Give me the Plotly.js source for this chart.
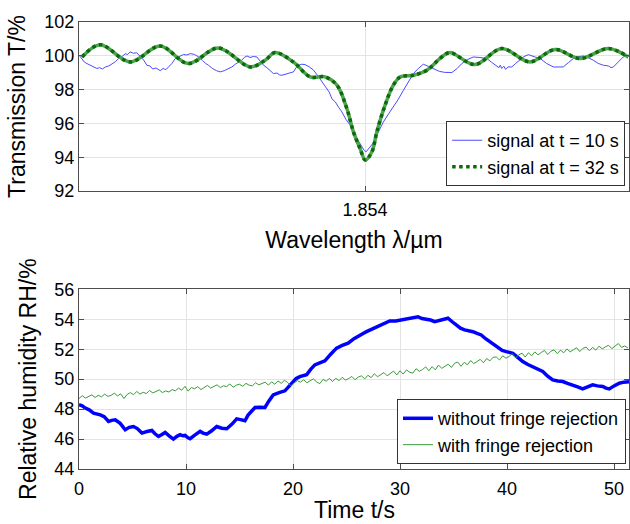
<!DOCTYPE html>
<html>
<head>
<meta charset="utf-8">
<script src="https://cdn.plot.ly/plotly-3.0.1.min.js"></script>
<style>html,body{margin:0;padding:0;background:#fff;}#chart{width:630px;height:524px;}</style>
</head>
<body>
<div id="chart"></div>
<script>
// ---------- Top panel: transmission spectra ----------
const wlTick = [1.854];
const wlTickText = ['1.854'];

const wl10 = [1.852962,1.852971,1.852980,1.852989,1.853000,1.853012,1.853025,1.853035,1.853045,1.853056,
  1.853068,1.853080,1.853092,1.853104,1.853116,1.853128,1.853137,1.853146,1.853158,1.853170,
  1.853183,1.853195,1.853207,1.853218,1.853228,1.853240,1.853255,1.853266,1.853276,1.853286,
  1.853298,1.853310,1.853325,1.853340,1.853352,1.853365,1.853380,1.853395,1.853410,1.853420,
  1.853431,1.853445,1.853460,1.853474,1.853488,1.853502,1.853516,1.853530,1.853543,1.853552,
  1.853562,1.853571,1.853582,1.853594,1.853607,1.853619,1.853631,1.853643,1.853655,1.853667,
  1.853680,1.853690,1.853698,1.853710,1.853725,1.853740,1.853749,1.853758,1.853770,1.853782,
  1.853797,1.853813,1.853830,1.853849,1.853870,1.853880,1.853892,1.853904,1.853916,1.853930,
  1.853946,1.853958,1.853970,1.853980,1.853989,1.853997,1.854004,1.854012,1.854019,1.854028,
  1.854037,1.854052,1.854067,1.854085,1.854103,1.854120,1.854140,1.854158,1.854176,1.854194,
  1.854212,1.854230,1.854249,1.854270,1.854290,1.854316,1.854335,1.854352,1.854372,1.854394,
  1.854418,1.854443,1.854460,1.854478,1.854487,1.854492,1.854497,1.854505,1.854511,1.854520,
  1.854534,1.854548,1.854564,1.854578,1.854594,1.854606,1.854620,1.854637,1.854660,1.854685,
  1.854703,1.854721,1.854740,1.854758,1.854776,1.854794,1.854812,1.854830,1.854848,1.854867,
  1.854885,1.854895,1.854903,1.854920,1.854939,1.854957,1.854962];
const T10 = [100.00,99.84,99.62,99.54,99.45,99.33,99.25,99.30,99.22,99.34,
  99.40,99.52,99.65,99.84,99.95,100.12,100.08,100.23,100.15,100.18,
  99.93,99.75,99.44,99.40,99.22,99.28,99.12,99.25,99.18,99.34,
  99.55,99.84,99.95,100.08,100.05,100.13,100.08,99.93,99.72,99.55,
  99.44,99.25,99.12,99.05,99.12,99.22,99.34,99.52,99.68,99.74,
  99.92,99.99,99.90,99.96,99.93,99.70,99.44,99.30,99.10,98.95,
  98.98,98.86,98.85,98.90,98.98,99.05,99.30,99.44,99.50,99.48,
  99.35,99.15,98.78,98.36,97.85,97.45,97.27,96.95,96.68,96.25,
  95.90,95.45,95.11,94.82,94.62,94.40,94.32,94.48,94.56,94.80,
  95.11,95.62,96.09,96.55,96.98,97.40,97.97,98.45,98.95,99.25,
  99.50,99.38,99.25,99.08,99.02,99.01,99.25,99.54,99.78,99.93,
  99.90,99.84,99.62,99.40,99.30,99.45,99.25,99.38,99.20,99.34,
  99.34,99.55,99.74,99.95,100.07,99.98,99.92,99.84,99.55,99.34,
  99.36,99.34,99.60,99.84,99.95,99.99,99.88,99.74,99.55,99.44,
  99.40,99.30,99.34,99.65,99.93,100.03,100.05];

const wl32 = [1.852971,1.853037,1.853146,1.853255,1.853357,1.853466,1.853583,1.853637,1.853673,1.853739,
  1.853801,1.853855,1.853898,1.853934,1.853958,1.853982,1.854001,1.854025,1.854043,1.854073,
  1.854103,1.854128,1.854176,1.854225,1.854279,1.854309,1.854400,1.854497,1.854600,1.854691,
  1.854782,1.854885,1.854957];
const T32 = [99.93,100.66,99.64,100.58,99.54,100.46,99.34,99.74,100.19,99.64,
  98.75,98.75,98.26,96.88,95.50,94.52,93.83,94.32,95.50,97.08,
  98.26,98.75,98.85,99.15,99.93,100.19,99.48,100.43,99.64,100.37,
  99.84,100.43,99.93];

// ---------- Bottom panel: relative humidity vs time ----------
const tWithout = [0,0.3,0.59,0.95,1.36,1.65,1.99,2.35,2.76,3.05,3.39,3.85,4.32,4.7,5.09,5.45,5.88,6.35,6.81,7.1,
  7.43,7.75,8.05,8.45,8.82,9.15,9.45,9.7,9.92,10.15,10.38,10.85,11.32,11.6,11.94,12.4,12.87,13.35,13.81,14.3,
  14.74,15.1,15.51,15.8,16.45,16.9,17.38,17.75,18.15,18.7,19.24,19.6,20.02,20.3,20.64,20.95,21.27,21.65,22.04,22.5,
  22.98,23.5,24.07,24.6,25.15,25.7,26.24,26.55,26.87,27.4,27.95,28.5,29.04,29.6,30.13,30.9,31.68,32.05,32.46,32.85,
  33.24,33.85,34.48,34.85,35.26,35.65,36.04,36.4,36.81,37.2,37.59,38.0,38.37,38.75,39.14,39.55,39.93,40.25,40.54,41.0,
  41.47,41.95,42.41,42.9,43.34,43.8,44.27,44.75,45.21,45.65,46.14,46.6,47.07,47.5,48.0,48.45,48.94,49.25,49.56,50.0,
  50.49,50.9,51.27,51.4];
const rhWithout = [48.29,48.22,48.07,47.95,47.73,47.70,47.62,47.50,47.17,47.25,47.29,47.05,46.62,46.78,46.84,46.70,46.40,46.50,46.57,46.35,
  46.17,46.30,46.44,46.20,46.00,46.18,46.29,46.22,46.24,46.10,46.02,46.28,46.51,46.40,46.33,46.55,46.84,46.72,46.69,47.00,
  47.35,47.30,47.22,47.60,48.11,48.12,48.11,48.55,48.95,49.10,49.22,49.50,49.84,50.05,50.17,50.22,50.29,50.65,50.95,51.08,
  51.22,51.65,52.07,52.25,52.40,52.70,52.95,53.05,53.17,53.35,53.51,53.72,53.89,53.88,53.95,54.05,54.17,54.05,54.02,53.95,
  53.84,53.98,54.07,53.85,53.62,53.40,53.29,53.25,53.17,53.05,52.95,52.70,52.51,52.30,52.07,51.92,51.84,51.80,51.73,51.45,
  51.17,50.98,50.84,50.70,50.51,50.20,49.95,49.88,49.84,49.72,49.62,49.48,49.35,49.50,49.62,49.55,49.51,49.40,49.35,49.55,
  49.73,49.80,49.84,49.82];

const tWithStart = 0;
const tWithStep = 0.3;
const rhWith = [
  48.70,48.90,48.74,48.86,48.95,48.78,48.92,48.82,49.00,48.85,
  48.92,49.06,48.88,49.02,48.70,48.98,49.10,48.96,49.18,49.00,
  49.12,49.04,49.24,49.08,49.16,49.28,49.10,49.22,49.14,49.30,
  49.22,49.40,49.26,49.52,49.20,49.44,49.36,49.50,49.30,49.46,
  49.58,49.40,49.52,49.62,49.44,49.56,49.50,49.68,49.46,49.60,
  49.66,49.52,49.72,49.60,49.55,49.76,49.62,49.70,49.80,49.60,
  49.82,49.66,49.88,49.72,49.92,49.78,49.56,49.74,49.90,49.80,
  49.96,49.76,49.90,50.02,49.82,49.70,49.98,49.86,50.04,49.84,
  50.06,49.90,50.12,49.94,50.04,50.18,49.96,50.14,50.22,50.02,
  50.26,50.10,50.36,50.16,50.30,50.44,50.22,50.40,50.54,50.28,
  50.56,50.34,50.62,50.46,50.40,50.70,50.52,50.64,50.82,50.56,
  50.84,50.62,50.94,50.72,50.86,51.00,50.78,51.06,51.14,50.86,
  51.12,50.96,51.24,51.04,51.18,51.32,51.10,51.38,51.22,51.46,
  51.48,51.28,51.56,51.40,51.52,51.70,51.42,51.62,51.74,51.48,
  51.76,51.56,51.82,51.62,51.78,51.92,51.64,51.86,51.96,51.70,
  51.94,51.76,52.02,51.82,51.96,52.10,51.84,52.06,52.14,51.90,
  52.12,51.94,52.20,52.02,52.16,52.26,52.04,52.22,52.38,52.12,
  52.22,52.08];

const timeTicks = [0,10,20,30,40,50];

const FONT = 'Liberation Sans, Arial, Helvetica, sans-serif';
const axisCommon = {
  showline: true, mirror: 'ticks', linecolor: '#4d4d4d', linewidth: 1,
  ticks: 'inside', ticklen: 5, tickcolor: '#4d4d4d',
  showgrid: true, gridcolor: '#e3e3e3', gridwidth: 1, zeroline: false,
  tickfont: {family: FONT, size: 18, color: '#000'}
};

const traces = [
  {x: wl10, y: T10, xaxis: 'x', yaxis: 'y', type: 'scatter', mode: 'lines',
   name: 'signal at t = 10 s', line: {color: '#4b4bff', width: 1}, legend: 'legend'},
  {x: wl32, y: T32, xaxis: 'x', yaxis: 'y', type: 'scatter', mode: 'lines',
   name: 'signal at t = 32 s base', showlegend: false, hoverinfo: 'skip',
   line: {color: '#4fa34f', width: 3.5, shape: 'spline', smoothing: 1}},
  {x: wl32, y: T32, xaxis: 'x', yaxis: 'y', type: 'scatter', mode: 'lines',
   name: 'signal at t = 32 s', line: {color: '#0b6a0b', width: 3.5, dash: 'dot', shape: 'spline', smoothing: 1}, legend: 'legend'},
  {x: tWithout, y: rhWithout, xaxis: 'x2', yaxis: 'y2', type: 'scatter', mode: 'lines',
   name: 'without fringe rejection', line: {color: '#0000ff', width: 3.5}, legend: 'legend2'},
  {x0: tWithStart, dx: tWithStep, y: rhWith, xaxis: 'x2', yaxis: 'y2', type: 'scatter', mode: 'lines',
   name: 'with fringe rejection', line: {color: '#3a9a3a', width: 1}, legend: 'legend2'}
];

const layout = {
  width: 630, height: 524,
  margin: {l: 79, r: 1, t: 22, b: 55},
  paper_bgcolor: '#fff', plot_bgcolor: '#fff',
  font: {family: FONT, color: '#000'},
  xaxis: Object.assign({}, axisCommon, {
    domain: [0, 1], anchor: 'y', range: [1.85296, 1.85496],
    tickvals: wlTick, ticktext: wlTickText, ticklabelstandoff: 2,
    title: {text: 'Wavelength λ/µm', font: {family: FONT, size: 23}, standoff: 13}
  }),
  yaxis: Object.assign({}, axisCommon, {
    domain: [0.6219, 1], anchor: 'x', range: [92, 102], dtick: 2, tick0: 92,
    title: {text: 'Transmission T/%', font: {family: FONT, size: 23}, standoff: 12}
  }),
  xaxis2: Object.assign({}, axisCommon, {
    domain: [0, 1], anchor: 'y2', range: [0, 51.4], tickvals: timeTicks, ticklabelstandoff: 3
  }),
  yaxis2: Object.assign({}, axisCommon, {
    domain: [0, 0.402], anchor: 'x2', range: [44, 56], dtick: 2, tick0: 44,
    title: {text: 'Relative humidity RH/%', font: {family: FONT, size: 23}, standoff: 11}
  }),
  annotations: [{
    text: 'Time t/s', xref: 'paper', yref: 'paper', x: 0.5, y: -0.0925,
    xanchor: 'center', yanchor: 'middle', showarrow: false,
    font: {family: FONT, size: 23, color: '#000'}
  }],
  legend: {x: 0.993, y: 0.633, xanchor: 'right', yanchor: 'bottom',
    bgcolor: '#fff', bordercolor: '#333', borderwidth: 1,
    font: {family: FONT, size: 18, color: '#000'}, tracegroupgap: 0, itemwidth: 30},
  legend2: {x: 0.9945, y: 0.011, xanchor: 'right', yanchor: 'bottom',
    bgcolor: '#fff', bordercolor: '#333', borderwidth: 1,
    font: {family: FONT, size: 18, color: '#000'}, tracegroupgap: 0, itemwidth: 30},
  showlegend: true
};

Plotly.newPlot('chart', traces, layout, {displayModeBar: false, staticPlot: true});
</script>
</body>
</html>
